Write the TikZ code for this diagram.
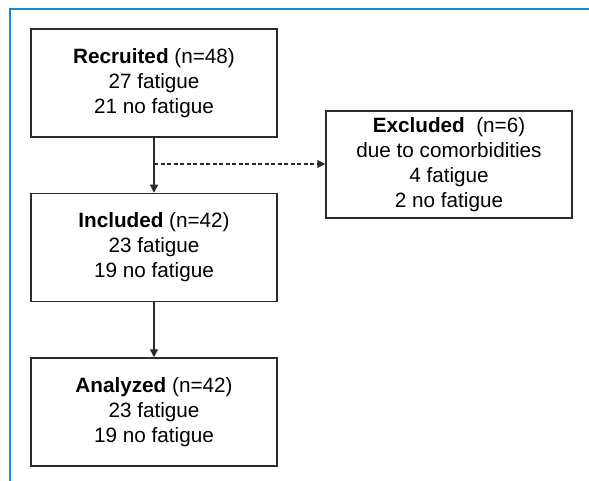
\documentclass[tikz,border=0pt]{standalone}
\usepackage{fontspec}
\setmainfont{Liberation Sans}
\usetikzlibrary{arrows.meta}
\definecolor{frameblue}{HTML}{1A8BC9}
\definecolor{linegray}{HTML}{2B2B2B}
\tikzset{
  box/.style={draw=linegray, line width=1.5pt, minimum width=246pt, minimum height=108pt,
    align=center, font=\fontsize{20.7}{25}\selectfont, inner sep=0pt, text=black},
  arr/.style={draw=linegray, line width=1.2pt, -{Triangle[length=8pt,width=8pt]}},
  darr/.style={draw=linegray, line width=1.1pt, dash pattern=on 4pt off 2.5pt, -{Triangle[length=8pt,width=8pt]}}
}
\begin{document}
\begin{tikzpicture}[x=1pt,y=-1pt]
\useasboundingbox (0,0) rectangle (589,481);
\draw[frameblue, line width=2.6pt] (10,481) -- (10,9) -- (589,9);
\node[box] (rec) at (154,83) {\textbf{Recruited} (n=48)\\27 fatigue\\21 no fatigue};
\node[box] (inc) at (154,247.5) {\textbf{Included} (n=42)\\23 fatigue\\19 no fatigue};
\node[box] (ana) at (154,412) {\textbf{Analyzed} (n=42)\\23 fatigue\\19 no fatigue};
\node[box, minimum height=107pt] (exc) at (449,164.5) {\textbf{Excluded}\ \ (n=6)\\due to comorbidities\\4 fatigue\\2 no fatigue};
\coordinate (d) at (154,164);
\draw[arr] (rec) -- (inc);
\draw[arr] (inc) -- (ana);
\draw[darr] (d) -- (d -| exc.west);
\end{tikzpicture}
\end{document}
